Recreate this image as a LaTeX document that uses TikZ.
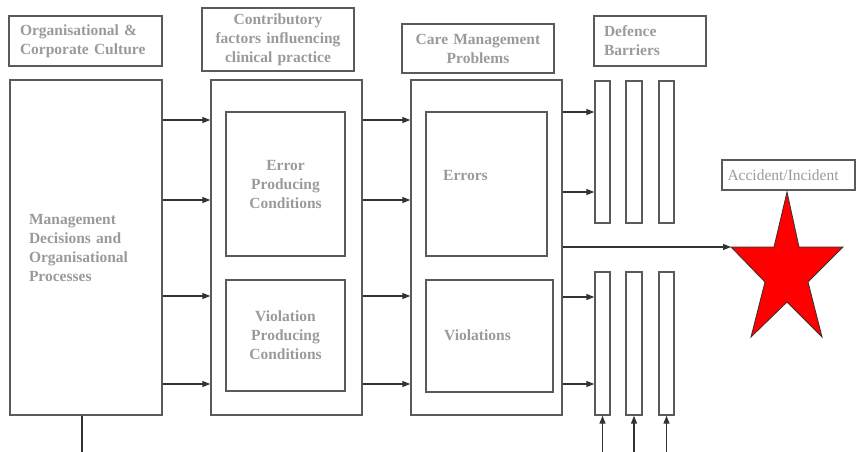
\documentclass[tikz,border=0pt]{standalone}
\usepackage{fontspec}
\setmainfont{Liberation Serif}
\usetikzlibrary{arrows.meta,calc}
\definecolor{edge}{HTML}{5A5A5A}
\definecolor{wire}{HTML}{333333}
\definecolor{txtgray}{HTML}{9A9A9A}
\definecolor{starred}{HTML}{FF0000}
\tikzset{
  box/.style={draw=edge, line width=1.4pt, rectangle, inner sep=0pt,
    font=\fontsize{15.5}{19}\selectfont\bfseries, text=txtgray},
  bar/.style={draw=edge, line width=1.4pt, rectangle, inner sep=0pt},
  arr/.style={draw=wire, line width=1.3pt, -{Triangle[length=8pt,width=6pt]}},
  plain/.style={draw=wire, line width=1.3pt},
  txt/.style={font=\fontsize{15.5}{19}\selectfont\bfseries, text=txtgray, inner sep=0pt},
}
\begin{document}
\begin{tikzpicture}[x=1pt,y=-1pt]
\useasboundingbox (0,0) rectangle (856,452);

% column headings
\node[box, minimum width=153pt, minimum height=50pt, text width=131pt, align=left]
  (orgH) at (85.5,41) {Organisational \&\\Corporate Culture};
\node[box, minimum width=152pt, minimum height=63pt, text width=140pt, align=center]
  (contH) at (278,39.5) {Contributory\\factors influencing\\clinical practice};
\node[box, minimum width=152pt, minimum height=49pt, text width=140pt, align=center]
  (careH) at (478,48.5) {Care Management\\Problems};
\node[box, minimum width=112pt, minimum height=50pt, text width=92pt, align=left]
  (defH) at (650,41) {Defence\\Barriers};

% main columns
\node[box, minimum width=152pt, minimum height=335pt, text width=114pt, align=left]
  (mgmt) at (86,247.5) {Management\\Decisions and\\Organisational\\Processes};
\node[bar, minimum width=151pt, minimum height=335pt] (cont) at (286.5,247.5) {};
\node[bar, minimum width=151pt, minimum height=335pt] (care) at (486.5,247.5) {};

% inner boxes
\node[box, minimum width=119pt, minimum height=144pt, text width=110pt, align=center]
  (epc) at (285.5,184) {\raisebox{-3pt}{\parbox{110pt}{\centering Error\\Producing\\Conditions}}};
\node[box, minimum width=119pt, minimum height=111pt, text width=110pt, align=center]
  (vpc) at (285.5,335.5) {\raisebox{-3pt}{\parbox{110pt}{\centering Violation\\Producing\\Conditions}}};
\node[bar, minimum width=121pt, minimum height=144pt] (err) at (486.5,184) {};
\node[txt, anchor=west] (errT) at (443,175) {Errors};
\node[bar, minimum width=127pt, minimum height=112pt] (vio) at (489.5,336) {};
\node[txt, anchor=west] (vioT) at (444,335) {Violations};

% defence barriers
\foreach \n/\x/\w in {1/602.5/15, 2/634/16, 3/666.5/15}{
  \node[bar, minimum width=\w pt, minimum height=142pt] (bu\n) at (\x,152) {};
  \node[bar, minimum width=\w pt, minimum height=143pt] (bl\n) at (\x,343.5) {};
}

% outcome
\node[draw=edge, line width=1.4pt, rectangle, minimum width=133pt, minimum height=30pt,
  inner sep=0pt, text width=122pt, align=left,
  font=\fontsize{15.5}{19}\selectfont, text=txtgray] (acc) at (788.5,175) {Accident/Incident};
\draw[draw=wire, line width=0.8pt, fill=starred]
  (787,192) -- (799,247) -- (843,247) -- (808,282) -- (822,337) -- (787,302)
  -- (751,337) -- (765,282) -- (731,247) -- (774,247) -- cycle;
\coordinate (starTip) at (731,247);

% flows between columns
\foreach \y in {120,200,296,384}{
  \draw[arr] (mgmt.east |- 0,\y) -- (cont.west |- 0,\y);
  \draw[arr] (cont.east |- 0,\y) -- (care.west |- 0,\y);
}
\foreach \y in {112,192}{
  \draw[arr] (care.east |- 0,\y) -- (bu1.west |- 0,\y);
}
\foreach \y in {297,384}{
  \draw[arr] (care.east |- 0,\y) -- (bl1.west |- 0,\y);
}
\draw[arr] (care.east |- starTip) -- (starTip);

% inputs from below
\foreach \n in {1,2,3}{
  \coordinate (in\n) at (bl\n.south |- 0,452);
  \draw[arr] (in\n) -- (bl\n.south);
}
\coordinate (mgmtFoot) at (82,452);
\draw[plain] (mgmt.south -| mgmtFoot) -- (mgmtFoot);
\end{tikzpicture}
\end{document}
